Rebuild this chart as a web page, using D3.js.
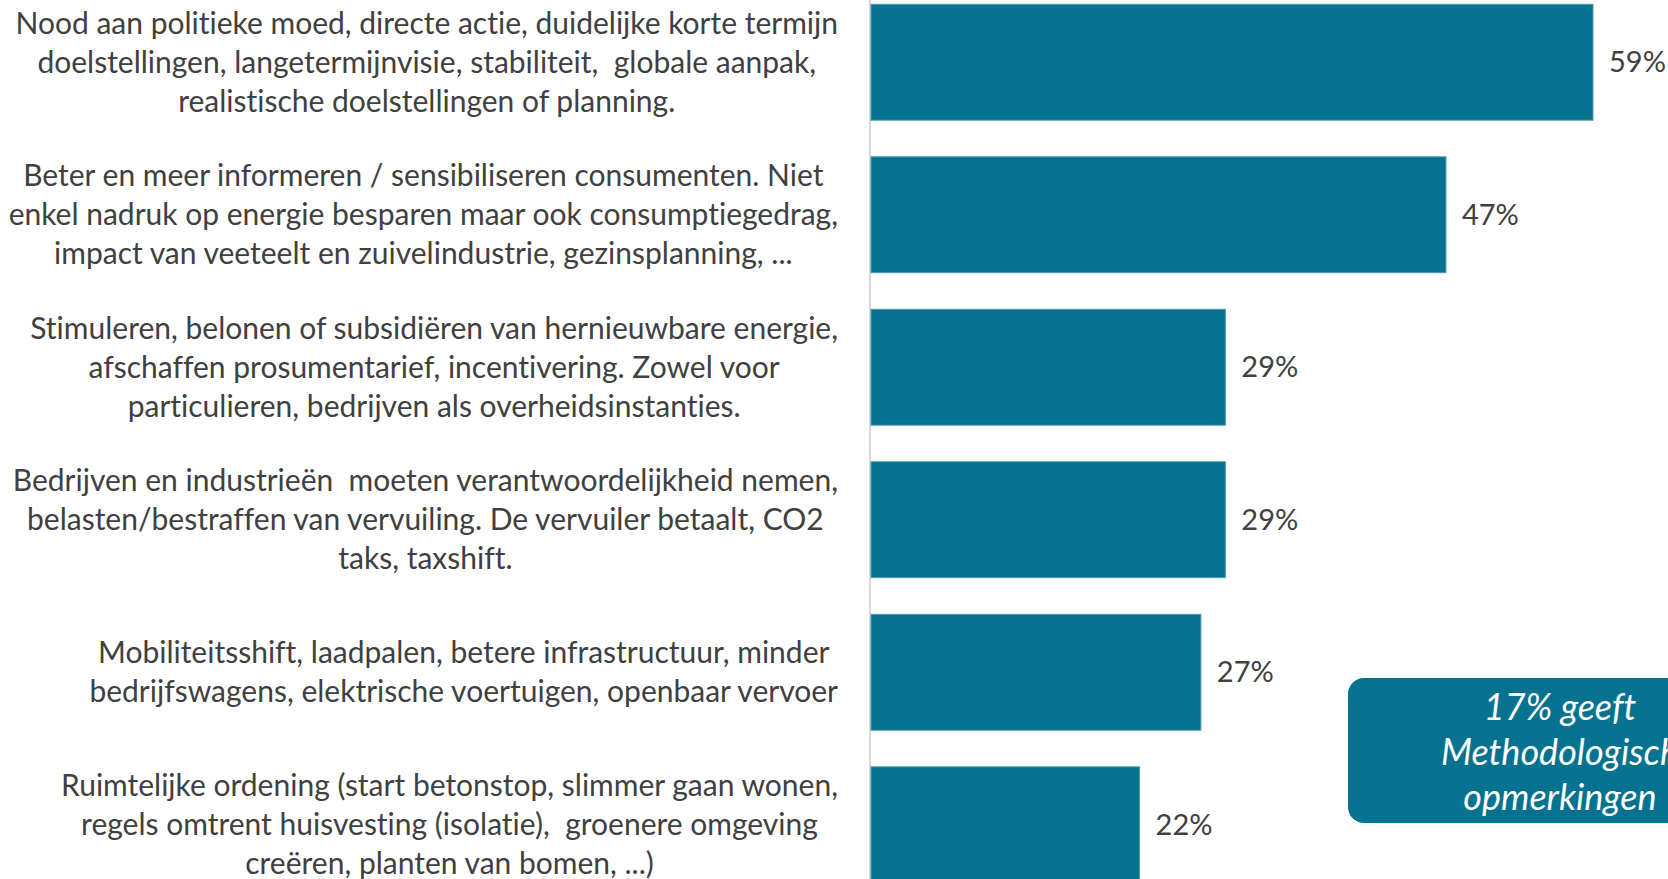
<!DOCTYPE html>
<html lang="nl">
<head>
    <meta charset="utf-8">
    <title>Maatregelen</title>
    <style type="text/css">
        body { margin: 0; background: #ffffff; overflow: hidden; }
        svg { display: block; }
        text { white-space: pre; font-variant-ligatures: none; font-feature-settings: "liga" 0; }
    </style>
    <script type="text/javascript" src="https://d3js.org/d3.v7.min.js"></script>
</head>
<body>
<script type="text/javascript">
    var w = 1668
    var h = 879

    // categorie labels, per regel
    var categories = [
        ["Nood aan politieke moed, directe actie, duidelijke korte termijn",
         "doelstellingen, langetermijnvisie, stabiliteit,  globale aanpak,",
         "realistische doelstellingen of planning."],
        ["Beter en meer informeren / sensibiliseren consumenten. Niet",
         "enkel nadruk op energie besparen maar ook consumptiegedrag,",
         "impact van veeteelt en zuivelindustrie, gezinsplanning, ..."],
        ["Stimuleren, belonen of subsidiëren van hernieuwbare energie,",
         "afschaffen prosumentarief, incentivering. Zowel voor",
         "particulieren, bedrijven als overheidsinstanties."],
        ["Bedrijven en industrieën  moeten verantwoordelijkheid nemen,",
         "belasten/bestraffen van vervuiling. De vervuiler betaalt, CO2",
         "taks, taxshift."],
        ["Mobiliteitsshift, laadpalen, betere infrastructuur, minder",
         "bedrijfswagens, elektrische voertuigen, openbaar vervoer"],
        ["Ruimtelijke ordening (start betonstop, slimmer gaan wonen,",
         "regels omtrent huisvesting (isolatie),  groenere omgeving",
         "creëren, planten van bomen, ...)"]
    ];
    var values = [0.59, 0.47, 0.29, 0.29, 0.27, 0.22];
    var noteLines = ["17% geeft", "Methodologisch", "opmerkingen"];

    var barColor = "#05728f";
    var textColor = "#404040";
    var fontFam = "Lato, 'Open Sans', sans-serif";

    var svg = d3.select("body")
                .append("svg")
                .attr("width", w)
                .attr("height", h);

    var x = d3.scaleLinear()
              .domain([0, 0.59])
              .range([870, 1593]);

    var y = d3.scaleBand()
              .domain(d3.range(values.length))
              .range([-14, 901])
              .paddingInner(0.24)
              .paddingOuter(0.12);

    // verticale as
    svg.append("line")
       .attr("x1", x(0)).attr("x2", x(0))
       .attr("y1", 0).attr("y2", h)
       .attr("stroke", "#d9d9d9")
       .attr("stroke-width", 2);

    svg.selectAll("rect.bar")
       .data(values)
       .enter()
       .append("rect")
       .attr("class", "bar")
       .attr("x", x(0) + 1)
       .attr("y", function (d, i) { return y(i); })
       .attr("width", function (d) { return x(d) - x(0) - 1; })
       .attr("height", y.bandwidth())
       .attr("fill", barColor)
       .attr("stroke", "#4a9bb3")
       .attr("stroke-width", 1);

    svg.selectAll("text.val")
       .data(values)
       .enter()
       .append("text")
       .attr("class", "val")
       .attr("x", function (d) { return x(d) + 16; })
       .attr("y", function (d, i) { return y(i) + y.bandwidth() / 2; })
       .attr("dy", "0.35em")
       .attr("font-family", fontFam)
       .attr("font-size", 29)
       .attr("fill", textColor)
       .text(function (d) { return Math.round(d * 100) + "%"; });

    // labels: blok rechts uitgelijnd, regels gecentreerd
    var lineH = 39;
    var rightEdge = 838;
    categories.forEach(function (lines, i) {
        var cy = y(i) + y.bandwidth() / 2;
        var g = svg.append("g");
        var t = g.selectAll("text")
                 .data(lines)
                 .enter()
                 .append("text")
                 .attr("y", function (d, j) { return cy + (j - (lines.length - 1) / 2) * lineH; })
                 .attr("dy", "0.35em")
                 .attr("text-anchor", "middle")
                 .attr("font-family", fontFam)
                 .attr("font-size", 30)
                 .attr("fill", textColor)
                 .text(function (d) { return d; });
        var maxW = 0;
        t.each(function () { maxW = Math.max(maxW, this.getComputedTextLength()); });
        t.attr("x", rightEdge - maxW / 2);
    });

    // opmerking kader
    svg.append("rect")
       .attr("x", 1348)
       .attr("y", 678)
       .attr("width", 424)
       .attr("height", 145)
       .attr("rx", 16)
       .attr("fill", barColor);

    svg.selectAll("text.note")
       .data(noteLines)
       .enter()
       .append("text")
       .attr("class", "note")
       .attr("x", 1560)
       .attr("y", function (d, i) { return 707 + i * 45; })
       .attr("dy", "0.35em")
       .attr("text-anchor", "middle")
       .attr("font-family", fontFam)
       .attr("font-style", "italic")
       .attr("font-size", 36)
       .attr("fill", "#ffffff")
       .text(function (d) { return d; });
</script>
</body>
</html>
